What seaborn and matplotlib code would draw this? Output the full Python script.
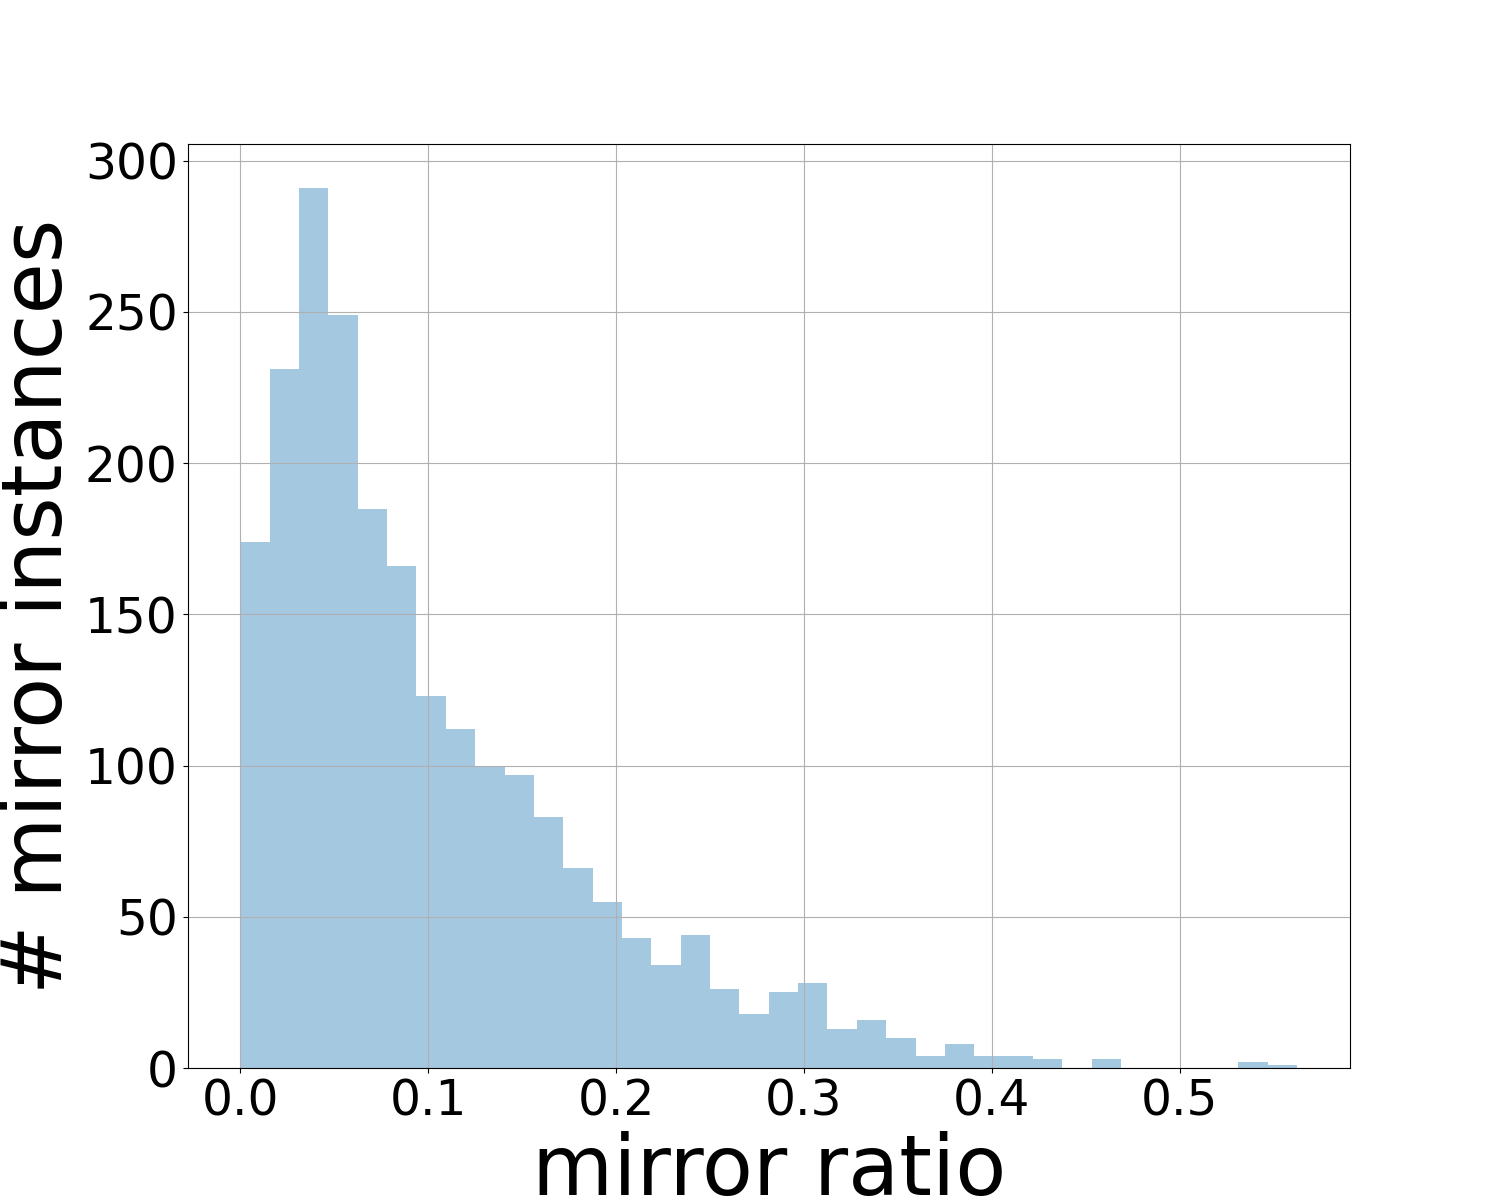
import numpy as np
import pandas as pd
import matplotlib
matplotlib.use("Agg")
import matplotlib.pyplot as plt
import seaborn as sns

# Histogram of mirror ratio: 36 equal bins from 0 to ~0.5625
bin_width = 0.015625
counts = [174, 231, 291, 249, 185, 166, 123, 112, 100, 97, 83, 66,
          55, 43, 34, 44, 26, 18, 25, 28, 13, 16, 10, 4,
          8, 4, 4, 3, 0, 3, 0, 0, 0, 0, 2, 1]

n_bins = len(counts)
centers = (np.arange(n_bins) + 0.5) * bin_width
df = pd.DataFrame({"ratio": centers, "count": counts})

fig = plt.figure(figsize=(15, 12), dpi=100)
ax = fig.add_subplot(111)

sns.histplot(data=df, x="ratio", weights="count", bins=n_bins,
             binrange=(0, n_bins * bin_width), color="#1f77b4",
             alpha=0.4, linewidth=0, ax=ax)

ax.grid(True)
ax.set_xlabel("mirror ratio", fontsize=60)
ax.set_ylabel("# mirror instances", fontsize=60)
ax.tick_params(axis="both", labelsize=35)

fig.savefig("out.png", dpi=100)
